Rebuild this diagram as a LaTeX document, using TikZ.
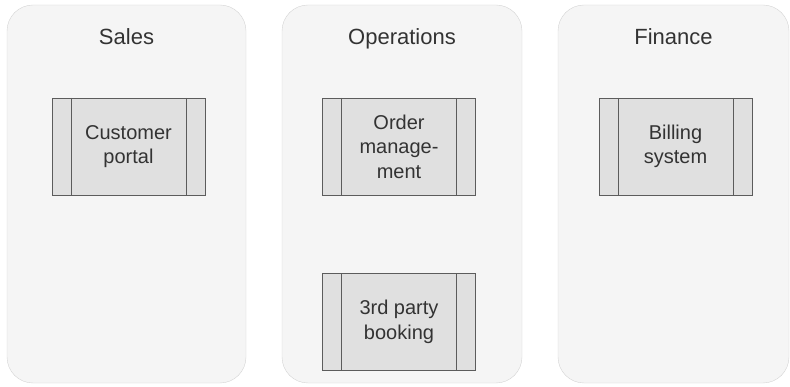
\documentclass[tikz,border=0pt]{standalone}
\usepackage{fontspec}
\setmainfont{Liberation Sans}
\usepackage{tikz}
\usetikzlibrary{positioning}

\definecolor{lanefill}{HTML}{F5F5F5}
\definecolor{laneline}{HTML}{D4D4D4}
\definecolor{boxfill}{HTML}{E0E0E0}
\definecolor{boxline}{HTML}{5C5C5C}
\definecolor{inktext}{HTML}{333333}

\tikzset{
  lane/.style={draw=laneline, fill=lanefill, rounded corners=26pt,
    minimum height=378pt, inner sep=0pt},
  lanetitle/.style={text=inktext, inner sep=0pt, anchor=base,
    font=\fontsize{22}{26}\selectfont},
  process/.style={draw=boxline, fill=boxfill, line width=0.9pt,
    minimum width=153pt, minimum height=97pt, inner sep=0pt,
    align=center, text=inktext, font=\fontsize{20}{24.5}\selectfont,
    path picture={
      \draw[boxline, line width=0.9pt]
        ([xshift=19pt]path picture bounding box.north west) --
        ([xshift=19pt]path picture bounding box.south west)
        ([xshift=-19pt]path picture bounding box.north east) --
        ([xshift=-19pt]path picture bounding box.south east);
    }},
}

\begin{document}
\begin{tikzpicture}[x=1pt,y=-1pt]
\useasboundingbox (0,0) rectangle (790,387);

% the three departments
\node[lane, minimum width=239pt] (sales) at (126.5,194) {};
\node[lane, minimum width=240pt] (ops) at (402,194) {};
\node[lane, minimum width=231pt] (fin) at (673.5,194) {};

\node[lanetitle] (salestitle) at ([yshift=-40pt]sales.north) {Sales};
\node[lanetitle] (opstitle) at ([yshift=-40pt]ops.north) {Operations};
\node[lanetitle] (fintitle) at ([yshift=-40pt]fin.north) {Finance};

% systems
\node[process] (portal) at (128.5,146.5) {Customer\\portal};
\node[process] (orders) at (399,146.5) {Order\\manage-\\ment};
\node[process] (booking) at (399,322) {3rd party\\booking};
\node[process] (billing) at (675.5,146.5) {Billing\\system};
\end{tikzpicture}
\end{document}
